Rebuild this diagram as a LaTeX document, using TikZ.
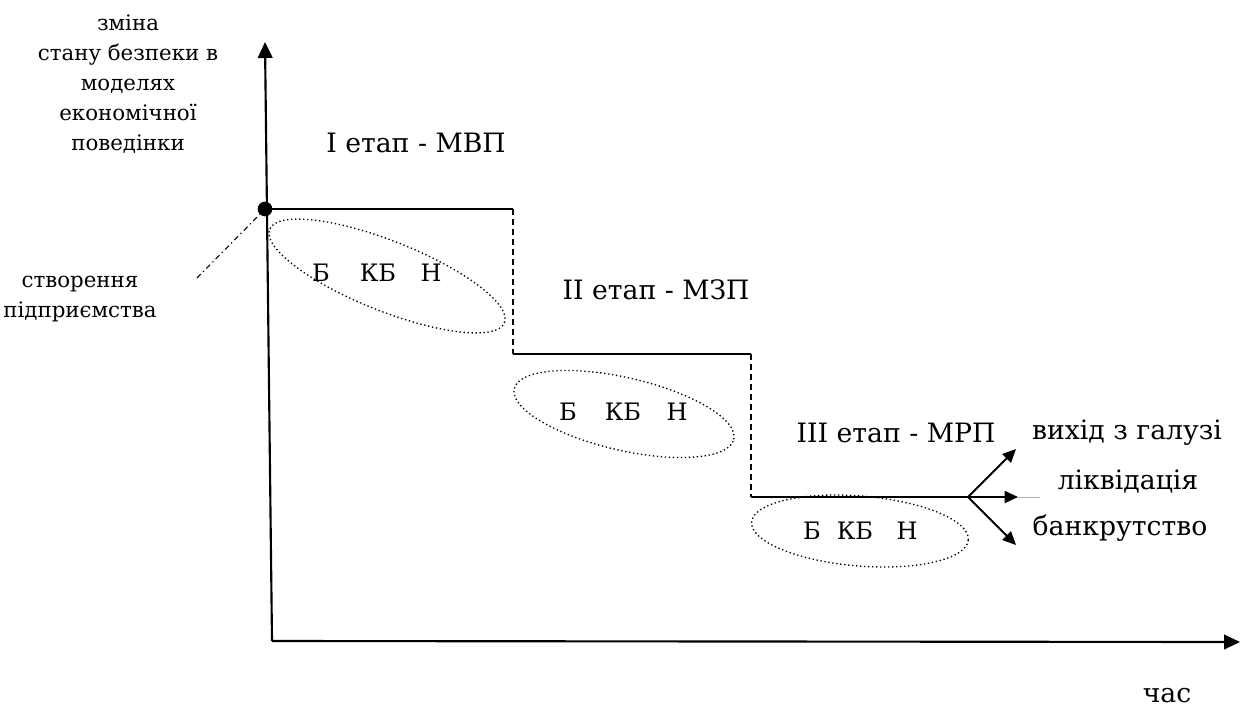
\documentclass[tikz,border=0pt]{standalone}
\usepackage{fontspec}
\setmainfont{DejaVu Serif}
\usetikzlibrary{arrows.meta, positioning, shapes.geometric}

\tikzset{
	axis/.style={line width=1.6pt, -{Triangle[length=12pt, width=11pt]}},
	stepline/.style={line width=1.5pt},
	drop/.style={line width=1.2pt, dash pattern=on 4.5pt off 3pt},
	fork/.style={line width=1.4pt, -{Triangle[length=10pt, width=9pt]}},
	pointer/.style={line width=0.8pt, dash pattern=on 4pt off 2.5pt on 1pt off 2.5pt},
	zone/.style={draw, ellipse, dotted, line width=1pt, inner sep=0pt},
	big/.style={font=\fontsize{20}{24}\selectfont},
	grade/.style={font=\fontsize{18}{22}\selectfont},
	small/.style={font=\fontsize{16}{22.5}\selectfont, align=center}
}

\begin{document}
\begin{tikzpicture}[x=0.75pt, y=-0.75pt]
				\useasboundingbox (0, 0) rectangle (1242, 708);

				% axes
				\coordinate (o) at (272, 641);
				\coordinate (ytip) at (265, 42);
				\coordinate (xtip) at (1240, 642);
				\draw[axis] (o) -- (ytip);
				\draw[axis] (o) -- (xtip);
				\node[small] (ylab) at (128, 84) {зміна\\стану безпеки в\\моделях\\економічної\\поведінки};
				\node[big] (time) at (1167, 696) {час};

				% start point
				\node[circle, fill, inner sep=0pt, minimum size=11pt] (dot) at (265, 209) {};
				\node[small] (start) at (80, 299) {створення\\підприємства};
				\coordinate (ptr) at (197, 278);
				\draw[pointer] (ptr) -- (dot);

				% stages
				\coordinate (c1) at (513, 209);
				\coordinate (c2) at (513, 354);
				\coordinate (c3) at (751, 354);
				\coordinate (c4) at (751, 497);
				\coordinate (fork) at (968, 497);
				\draw[stepline] (dot.center) -- (c1);
				\draw[drop] (c1) -- (c2);
				\draw[stepline] (c2) -- (c3);
				\draw[drop] (c3) -- (c4);
				\draw[stepline] (c4) -- (fork);

				\node[big] (s1) at (416, 143) {I етап - МВП};
				\node[big] (s2) at (656, 290) {II етап - МЗП};
				\node[big] (s3) at (896, 433) {III етап - МРП};

				% zones
				\node[zone, minimum width=189.5pt, minimum height=52.5pt, rotate=-21.7] (e1) at (387, 276) {};
				\node[grade] (b1) at (321, 273) {Б};
				\node[grade] (kb1) at (378, 273) {КБ};
				\node[grade] (n1) at (431, 273) {Н};

				\node[zone, minimum width=169pt, minimum height=54.5pt, rotate=-13] (e2) at (624, 414) {};
				\node[grade] (b2) at (568, 412) {Б};
				\node[grade] (kb2) at (623, 412) {КБ};
				\node[grade] (n2) at (677, 412) {Н};

				\node[zone, minimum width=163pt, minimum height=52.5pt, rotate=-4.7] (e3) at (860, 531) {};
				\node[grade] (b3) at (812, 531) {Б};
				\node[grade] (kb3) at (855, 531) {КБ};
				\node[grade] (n3) at (907, 531) {Н};

				% exits
				\coordinate (up) at (1016, 449);
				\coordinate (mid) at (1018, 497);
				\coordinate (down) at (1016, 545);
				\coordinate (stub) at (1040, 497);
				\draw[fork] (fork) -- (up);
				\draw[fork] (fork) -- (mid);
				\draw[fork] (fork) -- (down);
				\draw[gray!60, line width=0.4pt] (mid) -- (stub);
				\node[big] (exit) at (1127, 433) {вихід з галузі};
				\node[big] (liq) at (1128, 482) {ліквідація};
				\node[big] (bank) at (1120, 528) {банкрутство};
			\end{tikzpicture}
\end{document}
